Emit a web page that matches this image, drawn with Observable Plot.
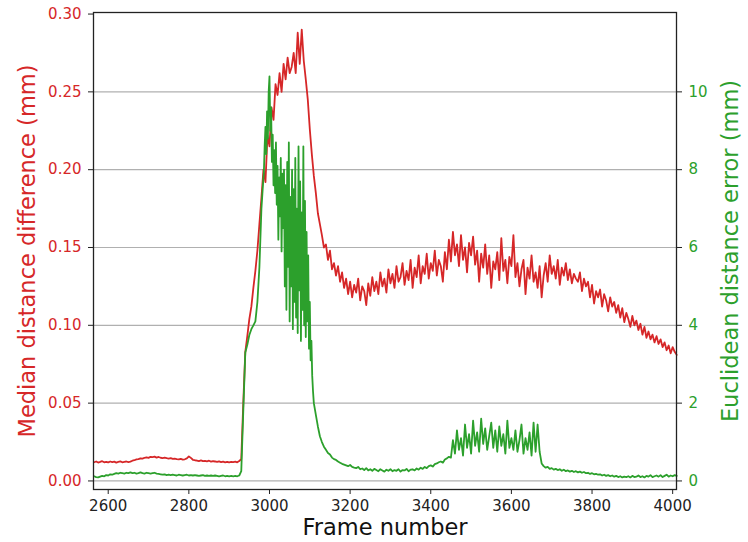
<!DOCTYPE html>
<html>
<head>
<meta charset="utf-8">
<script src="https://cdn.jsdelivr.net/npm/d3@7"></script>
<script src="https://cdn.jsdelivr.net/npm/@observablehq/plot@0.6"></script>
<style>
  html, body { margin: 0; padding: 0; background: #ffffff; }
  #chart svg { display: block; }
</style>
</head>
<body>
<div id="chart"></div>
<script>
// Frame numbers (sampled every 5 frames)
const frames = d3.range(2565, 4011, 5);

// Median distance difference (mm) — left axis, red
const medianDiff = [
  0.012,0.0125,0.0118,0.0122,0.0127,0.012,0.0123,0.0119,0.0125,0.0121,
  0.0124,0.0118,0.0122,0.0126,0.012,0.0123,0.0125,0.0121,0.0124,0.013,
  0.0133,0.0138,0.014,0.0145,0.0143,0.0149,0.0152,0.0148,0.0155,0.0153,
  0.0156,0.015,0.0154,0.0149,0.0147,0.015,0.0146,0.0144,0.0147,0.0142,
  0.0143,0.014,0.0138,0.0142,0.0137,0.0139,0.0145,0.0158,0.0148,0.0136,
  0.0133,0.0131,0.0128,0.0132,0.0127,0.0129,0.0126,0.013,0.0124,0.0127,
  0.0125,0.0122,0.0126,0.0121,0.0124,0.012,0.0123,0.0119,0.0122,0.0121,
  0.0124,0.012,0.0128,0.014,0.05,0.083,0.093,0.104,0.112,0.124,
  0.135,0.148,0.165,0.182,0.2,0.192,0.222,0.215,0.24,0.232,
  0.255,0.248,0.262,0.25,0.268,0.258,0.272,0.262,0.266,0.275,
  0.262,0.288,0.268,0.29,0.27,0.258,0.245,0.226,0.21,0.196,
  0.185,0.172,0.165,0.158,0.15,0.152,0.142,0.148,0.136,0.14,
  0.132,0.138,0.128,0.134,0.124,0.13,0.12,0.128,0.118,0.126,
  0.121,0.13,0.116,0.125,0.122,0.113,0.127,0.119,0.131,0.122,
  0.128,0.12,0.134,0.125,0.13,0.121,0.136,0.127,0.133,0.124,
  0.138,0.128,0.131,0.14,0.126,0.135,0.129,0.142,0.124,0.137,
  0.131,0.145,0.127,0.138,0.133,0.146,0.13,0.14,0.135,0.148,
  0.132,0.142,0.138,0.128,0.147,0.136,0.155,0.141,0.16,0.145,
  0.152,0.138,0.158,0.142,0.15,0.134,0.153,0.145,0.157,0.139,
  0.148,0.128,0.146,0.137,0.152,0.133,0.145,0.124,0.141,0.136,
  0.147,0.129,0.156,0.135,0.142,0.127,0.144,0.138,0.158,0.131,
  0.14,0.125,0.136,0.142,0.12,0.137,0.13,0.145,0.128,0.134,
  0.124,0.138,0.118,0.132,0.14,0.128,0.145,0.133,0.138,0.13,
  0.142,0.126,0.137,0.132,0.14,0.129,0.136,0.127,0.133,0.13,
  0.128,0.134,0.122,0.13,0.125,0.128,0.118,0.126,0.114,0.122,
  0.118,0.123,0.112,0.12,0.116,0.109,0.118,0.112,0.115,0.108,
  0.113,0.105,0.111,0.102,0.108,0.104,0.099,0.106,0.1,0.103,
  0.097,0.101,0.094,0.099,0.092,0.096,0.091,0.094,0.089,0.093,
  0.088,0.091,0.086,0.089,0.084,0.087,0.082,0.086,0.083,0.081
];

// Euclidean distance error (mm) — right axis, green
const euclidErr = [
  0.12,0.1,0.09,0.11,0.13,0.12,0.15,0.14,0.17,0.16,
  0.18,0.2,0.19,0.21,0.2,0.19,0.21,0.2,0.22,0.2,
  0.21,0.19,0.2,0.22,0.2,0.19,0.21,0.2,0.19,0.2,
  0.21,0.19,0.18,0.17,0.16,0.17,0.15,0.16,0.15,0.16,
  0.15,0.14,0.16,0.15,0.14,0.15,0.16,0.14,0.15,0.14,
  0.15,0.14,0.13,0.14,0.15,0.13,0.14,0.13,0.14,0.13,
  0.14,0.13,0.12,0.13,0.14,0.12,0.13,0.12,0.13,0.12,
  0.13,0.12,0.14,0.25,1.8,3.3,3.5,3.75,3.9,4.0,
  4.1,4.6,5.5,7.0,7.8,9.1,8.6,10.4,9.2,7.9,
  8.7,7.6,8.2,6.0,8.1,4.6,7.4,8.7,4.2,7.0,
  4.0,8.4,5.2,3.8,8.6,4.4,6.8,3.3,2.6,2.0,
  1.7,1.4,1.15,1.0,0.88,0.8,0.72,0.68,0.6,0.56,
  0.54,0.5,0.47,0.44,0.42,0.4,0.38,0.41,0.36,0.34,
  0.33,0.36,0.3,0.32,0.28,0.33,0.27,0.3,0.26,0.31,
  0.28,0.25,0.3,0.27,0.24,0.29,0.26,0.3,0.25,0.28,
  0.26,0.3,0.24,0.28,0.27,0.31,0.25,0.29,0.3,0.27,
  0.32,0.29,0.34,0.31,0.36,0.33,0.38,0.4,0.37,0.43,
  0.45,0.48,0.5,0.47,0.55,0.58,0.62,0.6,1.05,0.7,
  1.3,0.8,1.1,0.65,1.45,0.85,1.2,0.7,1.55,0.9,
  1.25,0.75,1.6,0.95,1.35,0.8,1.15,1.5,0.85,1.3,
  0.75,1.4,0.9,1.2,0.7,1.55,0.85,1.1,0.8,1.3,
  0.75,1.05,1.45,0.7,1.1,0.8,1.25,0.65,1.5,0.75,
  1.45,0.75,0.45,0.38,0.34,0.36,0.31,0.33,0.29,0.31,
  0.28,0.3,0.26,0.29,0.25,0.27,0.24,0.26,0.23,0.25,
  0.22,0.24,0.21,0.23,0.2,0.21,0.18,0.2,0.17,0.18,
  0.16,0.17,0.14,0.16,0.13,0.15,0.12,0.14,0.11,0.13,
  0.1,0.12,0.09,0.11,0.1,0.12,0.09,0.13,0.1,0.11,
  0.14,0.1,0.12,0.09,0.13,0.11,0.15,0.1,0.12,0.14,
  0.11,0.15,0.1,0.13,0.16,0.11,0.14,0.12,0.15,0.13
];

// Finer readings of the green peak (every 2 frames, 2986–3110)
const peakFrames = d3.range(2986, 3111, 2);
const peakEuclid = [
  7.9,8.6,9.1,8.4,9.5,8.8,10.0,
  10.4,9.0,9.6,8.2,8.9,7.6,8.5,7.4,8.7,7.1,
  8.1,6.2,7.8,6.8,8.3,5.9,7.9,6.5,8.0,5.0,
  7.6,4.4,8.2,5.5,8.7,4.1,7.3,5.0,8.0,3.9,
  7.5,4.6,8.3,4.2,7.0,3.8,8.6,4.9,7.7,3.6,
  6.9,4.4,8.6,4.0,7.2,3.7,6.4,4.1,5.8,3.4,
  4.6,3.1,3.6,2.7,2.3,2.0
];

// Tick labels
const xTicks = [2600, 2800, 3000, 3200, 3400, 3600, 3800, 4000];
const leftTicks = [0, 0.05, 0.10, 0.15, 0.20, 0.25, 0.30];
const rightTicks = [0, 2, 4, 6, 8, 10];

// Text
const xLabel = "Frame number";
const leftLabel = "Median distance difference (mm)";
const rightLabel = "Euclidean distance error (mm)";

// right-axis units per left-axis unit (twin axes)
const ratio = 40;

const RED = "#d62728";
const GREEN = "#2ca02c";
const FONT = "DejaVu Sans";

const redRows = frames.map((f, i) => ({frame: f, value: medianDiff[i]}));
const greenRows = frames
  .map((f, i) => ({frame: f, value: euclidErr[i]}))
  .filter(d => d.frame < peakFrames[0] || d.frame > peakFrames[peakFrames.length - 1])
  .concat(peakFrames.map((f, i) => ({frame: f, value: peakEuclid[i]})))
  .sort((a, b) => a.frame - b.frame);

const chart = Plot.plot({
  width: 748,
  height: 542,
  marginLeft: 93,
  marginRight: 72,
  marginTop: 12,
  marginBottom: 53,
  style: {fontFamily: FONT, background: "#ffffff", overflow: "visible"},
  x: {domain: [2563.5, 4009.5]},
  y: {domain: [-0.0055, 0.301]},
  marks: [
    Plot.gridY(rightTicks.map(v => v / ratio), {stroke: "#b0b0b0", strokeOpacity: 1, strokeWidth: 1.2}),
    Plot.lineY(redRows, {x: "frame", y: "value", stroke: RED, strokeWidth: 1.8}),
    Plot.lineY(greenRows, {x: "frame", y: d => d.value / ratio, stroke: GREEN, strokeWidth: 1.8}),
    Plot.frame({stroke: "#222", strokeWidth: 1.3}),
    Plot.axisY(leftTicks, {anchor: "left", tickSize: 5, tickPadding: 7, stroke: "#222",
      fill: RED, fontSize: 15, tickFormat: d3.format(".2f"), label: null}),
    Plot.axisY(rightTicks.map(v => v / ratio), {anchor: "right", tickSize: 5, tickPadding: 7, stroke: "#222",
      fill: GREEN, fontSize: 15, tickFormat: d => String(Math.round(d * ratio)), label: null}),
    Plot.axisX(xTicks, {anchor: "bottom", tickSize: 5, tickPadding: 6, stroke: "#222",
      fill: "#222", fontSize: 15, tickFormat: d => String(d), label: null}),
    Plot.text([xLabel], {frameAnchor: "bottom", textAnchor: "middle", lineAnchor: "middle",
      dy: 38, fontSize: 22.5, fill: "#111", fontFamily: FONT}),
    Plot.text([leftLabel], {frameAnchor: "left", textAnchor: "middle", lineAnchor: "middle",
      rotate: -90, dx: -66, fontSize: 22.5, fill: RED, fontFamily: FONT}),
    Plot.text([rightLabel], {frameAnchor: "right", textAnchor: "middle", lineAnchor: "middle",
      rotate: -90, dx: 54, fontSize: 22.5, fill: GREEN, fontFamily: FONT})
  ]
});

document.getElementById("chart").appendChild(chart);
</script>
</body>
</html>
